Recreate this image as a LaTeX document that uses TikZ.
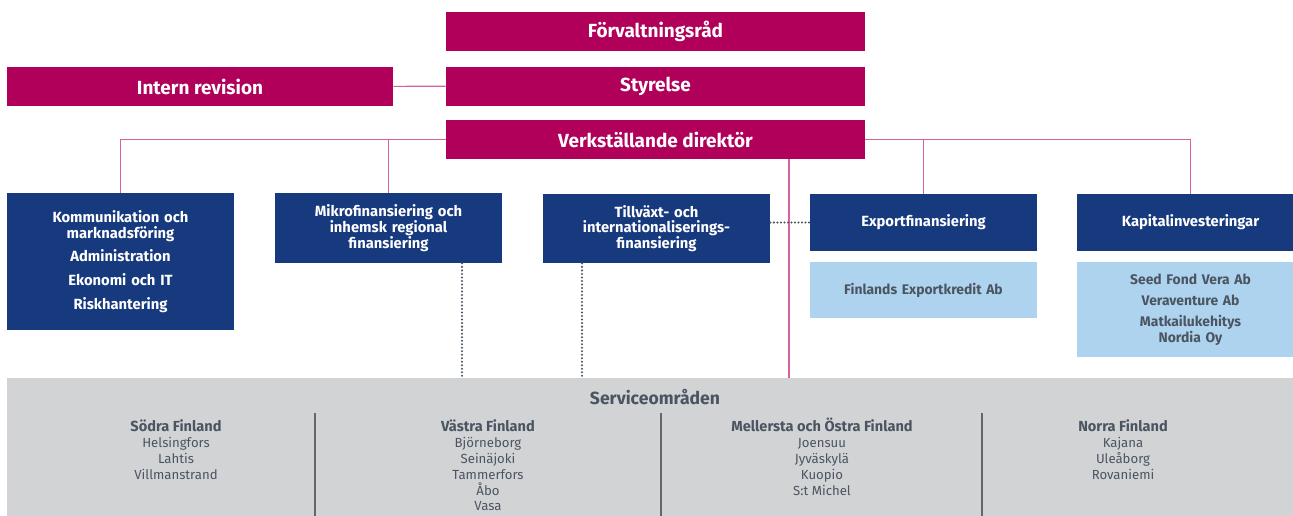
\documentclass[tikz,border=0pt]{standalone}
\usepackage{fontspec}
\setmainfont{Fira Sans}
\usetikzlibrary{calc}
\definecolor{vfmag}{HTML}{B0005A}
\definecolor{vfblue}{HTML}{173A7E}
\definecolor{vflight}{HTML}{AED3EF}
\definecolor{vfgray}{HTML}{D2D3D5}
\definecolor{vftext}{HTML}{4A5561}
\definecolor{vfline}{HTML}{D9609E}
\newcommand{\regionhead}[1]{{\fontsize{8.3}{9}\selectfont\bfseries\vphantom{Ö}#1}}

\begin{document}
\begin{tikzpicture}[
  board/.style={fill=vfmag, text=white, inner sep=0, minimum width=8.38cm,
    minimum height=0.78cm, font=\fontsize{10.8}{12}\selectfont\bfseries},
  unit/.style={fill=vfblue, text=white, inner sep=0, minimum width=4.54cm,
    text width=4.3cm, align=center, font=\fontsize{8.4}{9}\selectfont\bfseries},
  company/.style={unit, fill=vflight, text=vftext,
    font=\fontsize{7.9}{9}\selectfont\bfseries},
  region/.style={text=vftext, anchor=north, align=center, inner sep=0,
    font=\fontsize{7.5}{9}\selectfont},
  orgline/.style={draw=vfline, line width=0.6pt},
  dotline/.style={draw=vftext, line width=1.3pt, line cap=round,
    dash pattern=on 0pt off 2pt},
  sepline/.style={draw=gray!80!black, line width=0.7pt}]
\useasboundingbox (0, 0) rectangle (25.86, -10.30);
\clip (0, 0) rectangle (25.86, -10.30);

\node[fill=vfgray, minimum width=25.86cm, minimum height=2.84cm, inner sep=0]
  at (13.07, -8.98) (service) {};
\node[region, anchor=center, font=\fontsize{10}{10}\selectfont\bfseries]
  at (13.1, -7.94) (servicetitle) {Serviceområden};

\node[board] at (13.11, -0.63) (frad) {Förvaltningsråd};
\node[board] at (13.11, -1.72) (styrelse) {Styrelse};
\node[board, minimum width=7.72cm] at (4.0, -1.73) (revision) {Intern revision};
\node[board] at (13.11, -2.79) (vd) {Verkställande direktör};

\node[unit, minimum height=2.74cm] at (2.41, -5.23) (komm)
  {Kommunikation och\\ marknadsföring\\[4.5pt] Administration\\[4.5pt]
   Ekonomi och IT\\[4.5pt] Riskhantering};
\node[unit, minimum height=1.40cm] at (7.77, -4.56) (mikro)
  {Mikrofinansiering och\\ inhemsk regional\\ finansiering};
\node[unit, minimum height=1.38cm] at (13.13, -4.57) (tillvaxt)
  {Tillväxt- och\\ internationaliserings-\\ finansiering};
\node[unit, minimum height=1.14cm] at (18.47, -4.45) (export)
  {Exportfinansiering};
\node[unit, minimum height=1.14cm] at (23.81, -4.45) (kapital)
  {Kapitalinvesteringar};
\node[company, minimum height=1.12cm] at (18.47, -5.80) (exportkredit)
  {Finlands Exportkredit Ab};
\node[company, minimum height=1.90cm] at (23.81, -6.19) (bolag)
  {Seed Fond Vera Ab\\[3pt] Veraventure Ab\\[3pt] Matkailukehitys\\ Nordia Oy};

\node[region] at (3.52, -8.36) (sodra)
  {\regionhead{Södra Finland}\\ Helsingfors\\ Lahtis\\ Villmanstrand};
\node[region] at (9.76, -8.36) (vastra)
  {\regionhead{Västra Finland}\\ Björneborg\\ Seinäjoki\\ Tammerfors\\ Åbo\\ Vasa};
\node[region] at (16.44, -8.36) (mellersta)
  {\regionhead{Mellersta och Östra Finland}\\ Joensuu\\ Jyväskylä\\ Kuopio\\ S:t Michel};
\node[region] at (22.46, -8.36) (norra)
  {\regionhead{Norra Finland}\\ Kajana\\ Uleåborg\\ Rovaniemi};

\coordinate (sep1) at (6.30, -8.26);
\coordinate (sep2) at (13.22, -8.26);
\coordinate (sep3) at (19.64, -8.26);
\foreach \s in {sep1, sep2, sep3}
  \draw[sepline] (\s) -- ++(0, -2.2);

\path (revision) edge[orgline] (styrelse);
\path (komm.north) edge[orgline, to path={|- (\tikztotarget)}] (vd.west);
\path (mikro.north) edge[orgline, to path={|- (\tikztotarget)}] (vd.west);
\path (export.north) edge[orgline, to path={|- (\tikztotarget)}] (vd.east);
\path (kapital.north) edge[orgline, to path={|- (\tikztotarget)}] (vd.east);
\coordinate (vdfoot) at (15.78, -7.56);
\path (vdfoot |- vd.south) edge[orgline] (vdfoot);

\coordinate (mikrodot) at ($(mikro.south)+(1.47, 0)$);
\coordinate (tillvaxtdot) at ($(tillvaxt.south)+(-1.49, 0)$);
\path (mikrodot) edge[dotline] (mikrodot |- service.north);
\path (tillvaxtdot) edge[dotline] (tillvaxtdot |- service.north);
\path (tillvaxt.east |- export) edge[dotline] (export.west);
\end{tikzpicture}
\end{document}
